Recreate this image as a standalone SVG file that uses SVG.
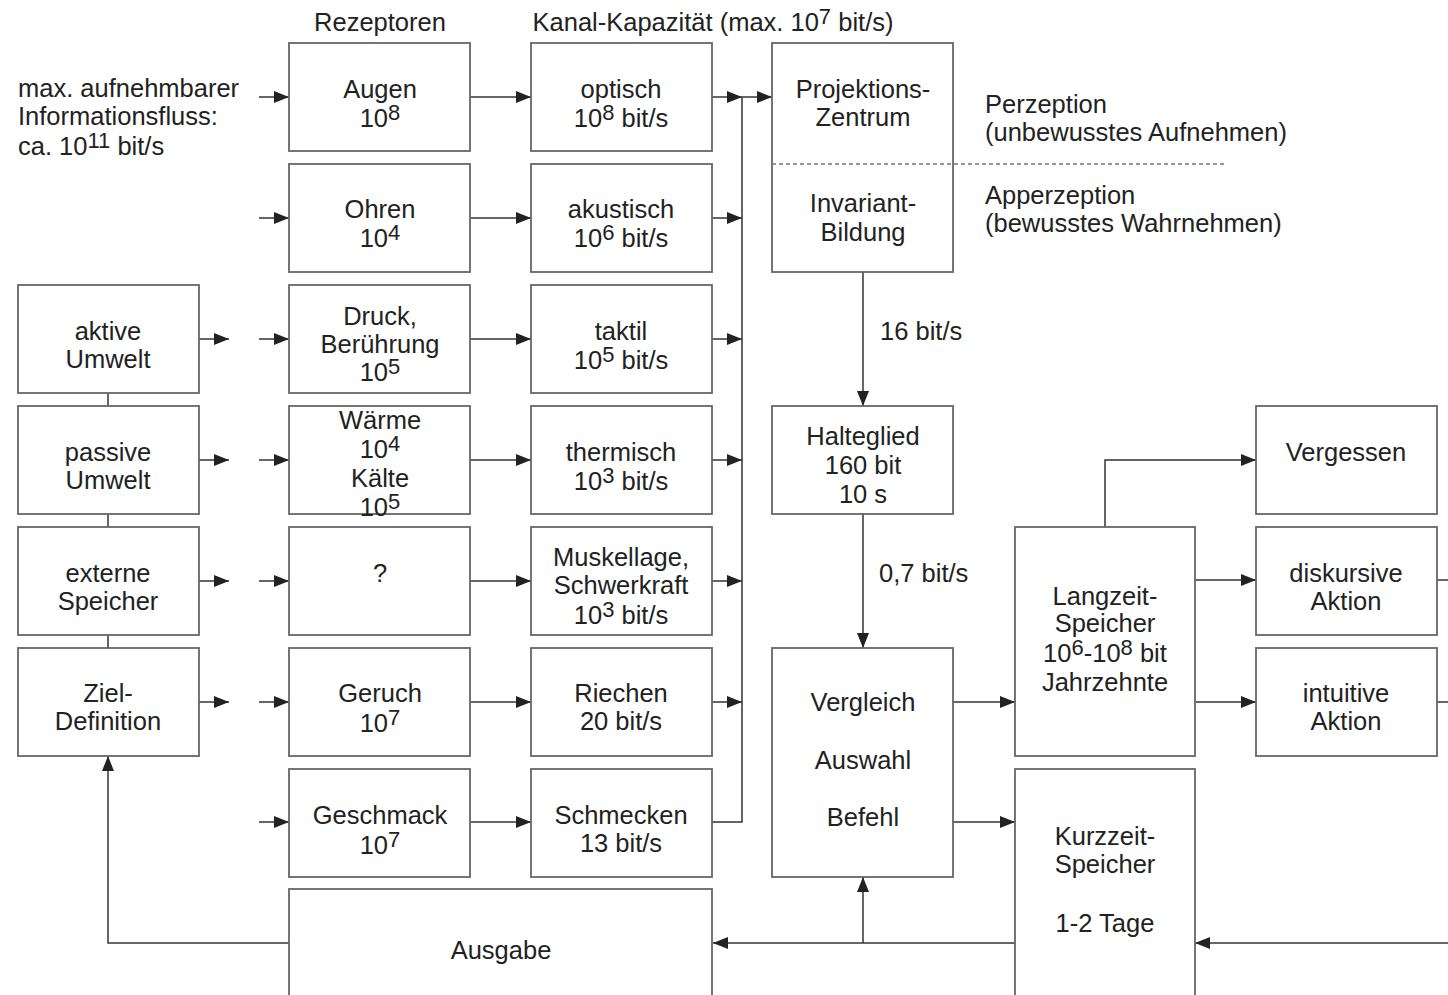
<svg xmlns="http://www.w3.org/2000/svg" width="1448" height="995" viewBox="0 0 1448 995">
<style>
text{font-family:"Liberation Sans",Arial,sans-serif;font-size:25.5px;fill:#222;text-anchor:middle}
.l{text-anchor:start}
.s{font-size:22px}
.box{fill:#fff;stroke:#666;stroke-width:1.8}
.c{fill:none;stroke:#333;stroke-width:1.5}
.d{fill:none;stroke:#777;stroke-width:1.3;stroke-dasharray:4 3}
</style>
<defs>
<marker id="a" markerUnits="userSpaceOnUse" markerWidth="16" markerHeight="12" refX="15" refY="6" orient="auto">
<path d="M0,0 L15,6 L0,12 Z" fill="#222"/>
</marker>
</defs>
<rect width="1448" height="995" fill="#fff"/>

<g id="labels">
<text x="713" y="31">Kanal-Kapazität (max. 10<tspan class="s" dy="-7">7</tspan><tspan dy="7"> bit/s)</tspan></text>
<text x="380" y="31">Rezeptoren</text>
<text class="l" x="18" y="97">max. aufnehmbarer</text>
<text class="l" x="18" y="125">Informationsfluss:</text>
<text class="l" x="18" y="155">ca. 10<tspan class="s" dy="-7">11</tspan><tspan dy="7"> bit/s</tspan></text>
<text class="l" x="985" y="113">Perzeption</text>
<text class="l" x="985" y="141">(unbewusstes Aufnehmen)</text>
<text class="l" x="985" y="204">Apperzeption</text>
<text class="l" x="985" y="232">(bewusstes Wahrnehmen)</text>
<text class="l" x="880" y="340">16 bit/s</text>
<text class="l" x="879" y="582">0,7 bit/s</text>
</g>

<g id="connectors">
<g class="c">
<line x1="259" y1="97" x2="289" y2="97" marker-end="url(#a)"/>
<line x1="259" y1="218" x2="289" y2="218" marker-end="url(#a)"/>
<line x1="259" y1="339" x2="289" y2="339" marker-end="url(#a)"/>
<line x1="259" y1="460" x2="289" y2="460" marker-end="url(#a)"/>
<line x1="259" y1="581" x2="289" y2="581" marker-end="url(#a)"/>
<line x1="259" y1="702" x2="289" y2="702" marker-end="url(#a)"/>
<line x1="259" y1="822" x2="289" y2="822" marker-end="url(#a)"/>
<line x1="199" y1="339" x2="229" y2="339" marker-end="url(#a)"/>
<line x1="199" y1="460" x2="229" y2="460" marker-end="url(#a)"/>
<line x1="199" y1="581" x2="229" y2="581" marker-end="url(#a)"/>
<line x1="199" y1="702" x2="229" y2="702" marker-end="url(#a)"/>
<line x1="470" y1="97" x2="531" y2="97" marker-end="url(#a)"/>
<line x1="470" y1="218" x2="531" y2="218" marker-end="url(#a)"/>
<line x1="470" y1="339" x2="531" y2="339" marker-end="url(#a)"/>
<line x1="470" y1="460" x2="531" y2="460" marker-end="url(#a)"/>
<line x1="470" y1="581" x2="531" y2="581" marker-end="url(#a)"/>
<line x1="470" y1="702" x2="531" y2="702" marker-end="url(#a)"/>
<line x1="470" y1="822" x2="531" y2="822" marker-end="url(#a)"/>
<line x1="712" y1="97" x2="742" y2="97" marker-end="url(#a)"/>
<line x1="712" y1="218" x2="742" y2="218" marker-end="url(#a)"/>
<line x1="712" y1="339" x2="742" y2="339" marker-end="url(#a)"/>
<line x1="712" y1="460" x2="742" y2="460" marker-end="url(#a)"/>
<line x1="712" y1="581" x2="742" y2="581" marker-end="url(#a)"/>
<line x1="712" y1="702" x2="742" y2="702" marker-end="url(#a)"/>
<path d="M712,822 H742 V97"/>
<line x1="742" y1="97" x2="772" y2="97" marker-end="url(#a)"/>
<line x1="863" y1="272" x2="863" y2="406" marker-end="url(#a)"/>
<line x1="863" y1="514" x2="863" y2="648" marker-end="url(#a)"/>
<line x1="953" y1="702" x2="1015" y2="702" marker-end="url(#a)"/>
<line x1="953" y1="822" x2="1015" y2="822" marker-end="url(#a)"/>
<path d="M1105,527 V460 H1256" marker-end="url(#a)"/>
<line x1="1195" y1="580" x2="1256" y2="580" marker-end="url(#a)"/>
<line x1="1195" y1="702" x2="1256" y2="702" marker-end="url(#a)"/>
<line x1="1437" y1="580" x2="1450" y2="580"/>
<line x1="1437" y1="702" x2="1450" y2="702"/>
<line x1="1450" y1="943" x2="1195" y2="943" marker-end="url(#a)"/>
<line x1="1015" y1="943" x2="713" y2="943" marker-end="url(#a)"/>
<line x1="863" y1="943" x2="863" y2="877" marker-end="url(#a)"/>
<path d="M289,943 H108 V756" marker-end="url(#a)"/>
<line x1="108" y1="393" x2="108" y2="406"/>
<line x1="108" y1="514" x2="108" y2="527"/>
<line x1="108" y1="635" x2="108" y2="648"/>
</g>
</g>

<g id="n-aktive"><rect class="box" x="18" y="285" width="181" height="108"/><text x="108" y="340">aktive</text><text x="108" y="368">Umwelt</text></g>
<g id="n-passive"><rect class="box" x="18" y="406" width="181" height="108"/><text x="108" y="461">passive</text><text x="108" y="489">Umwelt</text></g>
<g id="n-externe"><rect class="box" x="18" y="527" width="181" height="108"/><text x="108" y="582">externe</text><text x="108" y="610">Speicher</text></g>
<g id="n-ziel"><rect class="box" x="18" y="648" width="181" height="108"/><text x="108" y="702">Ziel-</text><text x="108" y="730">Definition</text></g>

<g id="n-augen"><rect class="box" x="289" y="43" width="181" height="108"/><text x="380" y="98">Augen</text><text x="380" y="127">10<tspan class="s" dy="-7">8</tspan></text></g>
<g id="n-ohren"><rect class="box" x="289" y="164" width="181" height="108"/><text x="380" y="218">Ohren</text><text x="380" y="247">10<tspan class="s" dy="-7">4</tspan></text></g>
<g id="n-druck"><rect class="box" x="289" y="285" width="181" height="108"/><text x="380" y="325">Druck,</text><text x="380" y="353">Berührung</text><text x="380" y="381">10<tspan class="s" dy="-7">5</tspan></text></g>
<g id="n-waerme"><rect class="box" x="289" y="406" width="181" height="108"/><text x="380" y="429">Wärme</text><text x="380" y="458">10<tspan class="s" dy="-7">4</tspan></text><text x="380" y="487">Kälte</text><text x="380" y="516">10<tspan class="s" dy="-7">5</tspan></text></g>
<g id="n-frage"><rect class="box" x="289" y="527" width="181" height="108"/><text x="380" y="582">?</text></g>
<g id="n-geruch"><rect class="box" x="289" y="648" width="181" height="108"/><text x="380" y="702">Geruch</text><text x="380" y="732">10<tspan class="s" dy="-7">7</tspan></text></g>
<g id="n-geschmack"><rect class="box" x="289" y="769" width="181" height="108"/><text x="380" y="824">Geschmack</text><text x="380" y="854">10<tspan class="s" dy="-7">7</tspan></text></g>
<g id="n-ausgabe"><rect class="box" x="289" y="889" width="423" height="120"/><text x="501" y="959">Ausgabe</text></g>

<g id="n-optisch"><rect class="box" x="531" y="43" width="181" height="108"/><text x="621" y="98">optisch</text><text x="621" y="127">10<tspan class="s" dy="-7">8</tspan><tspan dy="7"> bit/s</tspan></text></g>
<g id="n-akustisch"><rect class="box" x="531" y="164" width="181" height="108"/><text x="621" y="218">akustisch</text><text x="621" y="247">10<tspan class="s" dy="-7">6</tspan><tspan dy="7"> bit/s</tspan></text></g>
<g id="n-taktil"><rect class="box" x="531" y="285" width="181" height="108"/><text x="621" y="340">taktil</text><text x="621" y="369">10<tspan class="s" dy="-7">5</tspan><tspan dy="7"> bit/s</tspan></text></g>
<g id="n-thermisch"><rect class="box" x="531" y="406" width="181" height="108"/><text x="621" y="461">thermisch</text><text x="621" y="490">10<tspan class="s" dy="-7">3</tspan><tspan dy="7"> bit/s</tspan></text></g>
<g id="n-muskel"><rect class="box" x="531" y="527" width="181" height="108"/><text x="621" y="566">Muskellage,</text><text x="621" y="594">Schwerkraft</text><text x="621" y="624">10<tspan class="s" dy="-7">3</tspan><tspan dy="7"> bit/s</tspan></text></g>
<g id="n-riechen"><rect class="box" x="531" y="648" width="181" height="108"/><text x="621" y="702">Riechen</text><text x="621" y="730">20 bit/s</text></g>
<g id="n-schmecken"><rect class="box" x="531" y="769" width="181" height="108"/><text x="621" y="824">Schmecken</text><text x="621" y="852">13 bit/s</text></g>

<g id="n-projektion"><rect class="box" x="772" y="43" width="181" height="229"/><text x="863" y="98">Projektions-</text><text x="863" y="126">Zentrum</text><text x="863" y="212">Invariant-</text><text x="863" y="241">Bildung</text></g>
<line id="trenn" class="d" x1="772" y1="164" x2="1226" y2="164"/>
<g id="n-halteglied"><rect class="box" x="772" y="406" width="181" height="108"/><text x="863" y="445">Halteglied</text><text x="863" y="474">160 bit</text><text x="863" y="503">10 s</text></g>
<g id="n-vergleich"><rect class="box" x="772" y="648" width="181" height="229"/><text x="863" y="711">Vergleich</text><text x="863" y="769">Auswahl</text><text x="863" y="826">Befehl</text></g>

<g id="n-langzeit"><rect class="box" x="1015" y="527" width="180" height="229"/><text x="1105" y="605">Langzeit-</text><text x="1105" y="632">Speicher</text><text x="1105" y="662">10<tspan class="s" dy="-7">6</tspan><tspan dy="7">-10</tspan><tspan class="s" dy="-7">8</tspan><tspan dy="7"> bit</tspan></text><text x="1105" y="691">Jahrzehnte</text></g>
<g id="n-kurzzeit"><rect class="box" x="1015" y="769" width="180" height="240"/><text x="1105" y="845">Kurzzeit-</text><text x="1105" y="873">Speicher</text><text x="1105" y="932">1-2 Tage</text></g>

<g id="n-vergessen"><rect class="box" x="1256" y="406" width="181" height="108"/><text x="1346" y="461">Vergessen</text></g>
<g id="n-diskursiv"><rect class="box" x="1256" y="527" width="181" height="108"/><text x="1346" y="582">diskursive</text><text x="1346" y="610">Aktion</text></g>
<g id="n-intuitiv"><rect class="box" x="1256" y="648" width="181" height="108"/><text x="1346" y="702">intuitive</text><text x="1346" y="730">Aktion</text></g>
</svg>
